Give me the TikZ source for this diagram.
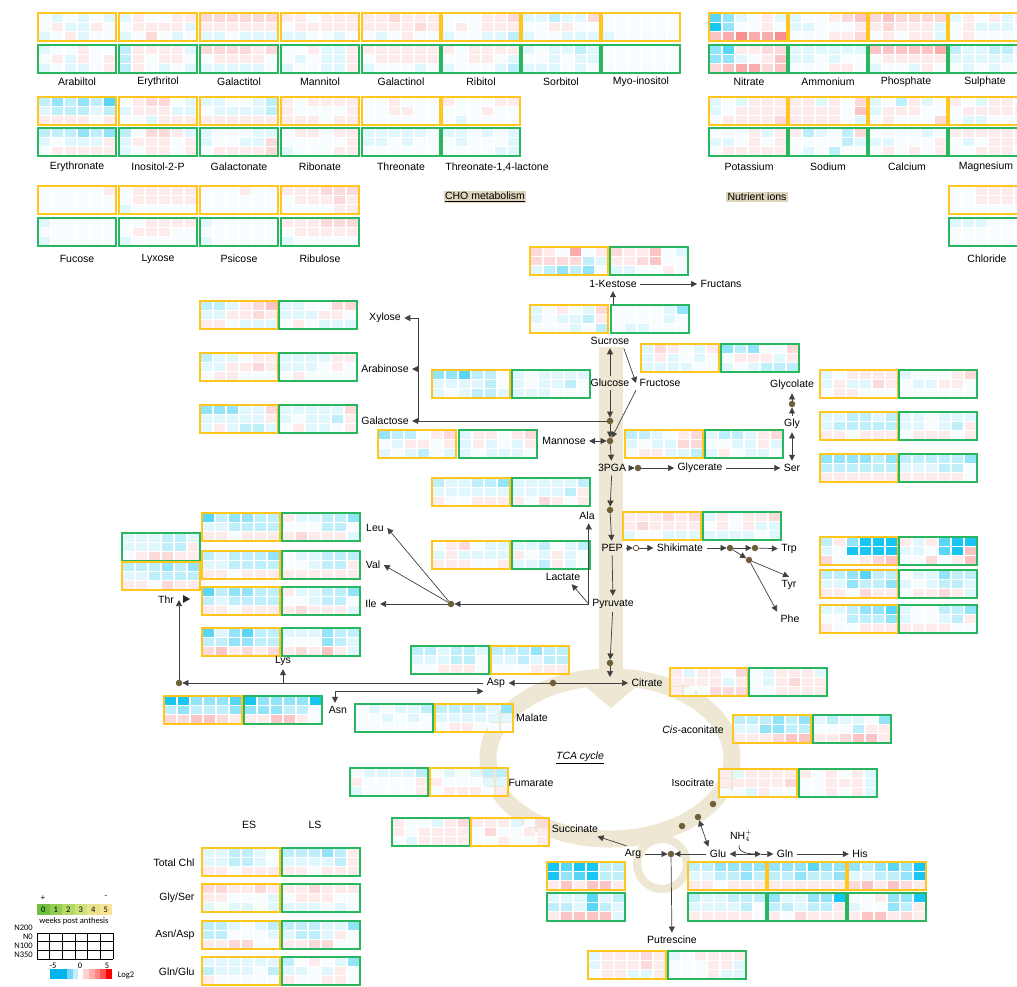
\documentclass[tikz,border=0pt]{standalone}
\usepackage{fontspec}
\setmainfont{Liberation Sans}
\newfontfamily\calfont{Carlito}
\usetikzlibrary{arrows.meta}

\definecolor{esc}{RGB}{255,198,30}
\definecolor{lsc}{RGB}{40,182,95}
\definecolor{hmB}{RGB}{0,190,240}
\definecolor{hmR}{RGB}{245,70,70}
\colorlet{hmw}{hmB!3!white}
\colorlet{hmb1}{hmB!12!white}
\colorlet{hmb2}{hmB!25!white}
\colorlet{hmb3}{hmB!42!white}
\colorlet{hmb4}{hmB!65!white}
\colorlet{hmb5}{hmB!90!white}
\colorlet{hmr1}{hmR!10!white}
\colorlet{hmr2}{hmR!20!white}
\colorlet{hmr3}{hmR!32!white}
\colorlet{hmr4}{hmR!45!white}
\colorlet{hmr5}{hmR!60!white}
\definecolor{path}{RGB}{237,231,212}
\definecolor{dotc}{RGB}{110,95,55}
\definecolor{hdr}{RGB}{221,212,188}
\definecolor{wk0}{RGB}{112,191,65}
\definecolor{wk1}{RGB}{146,204,83}
\definecolor{wk2}{RGB}{179,217,103}
\definecolor{wk3}{RGB}{205,226,124}
\definecolor{wk4}{RGB}{232,228,140}
\definecolor{wk5}{RGB}{250,228,150}
\definecolor{cbb}{RGB}{0,180,240}
\definecolor{cbr}{RGB}{255,0,0}

\tikzset{
  arr/.style={-{Triangle[length=6pt,width=6pt]},line width=0.7pt,draw=black!75},
  arr2/.style={{Triangle[length=6pt,width=6pt]}-{Triangle[length=6pt,width=6pt]},line width=0.7pt,draw=black!75},
  dot/.style={circle,fill=dotc,inner sep=0pt,minimum size=6.5pt},
  odot/.style={circle,draw=dotc,fill=white,line width=0.8pt,inner sep=0pt,minimum size=5.5pt},
  esbox/.style={draw=esc,line width=1.2pt},
  lsbox/.style={draw=lsc,line width=1.2pt},
  leg/.style={font=\calfont\fontsize{8.5}{9}\selectfont,inner sep=1pt}
}

% heat map: x, y (top left), border style, 18 cells row by row
\newcommand{\heatbox}[4]{%
  \begin{scope}[shift={(#1,#2)}]
    \foreach \v [count=\i from 0] in {#4}{%
      \pgfmathtruncatemacro\hc{mod(\i,6)}%
      \pgfmathtruncatemacro\hr{div(\i,6)}%
      \fill[fill=hm\v] (\hc*13+0.6,\hr*9.333+0.6) rectangle ++(11.8,8.1);
    }
    \draw[#3] (0,0) rectangle (78,28);
  \end{scope}}

\begin{document}
\begin{tikzpicture}[x=1pt,y=-1pt,font=\fontsize{10.5}{12.5}\selectfont]
\useasboundingbox (0,0) rectangle (1017,986);
\clip (0,0) rectangle (1017,986);

% pathway background
\fill[path] (599,347) rectangle (623,684);
\draw[path,line width=17pt] (610,758) ellipse [x radius=122,y radius=81];
\fill[path] (580,682) -- (642,682) -- (611,708) -- cycle;
\draw[path,line width=8pt] (662,864) circle [radius=25];

% CHO metabolism
\heatbox{38}{13}{esbox}{w,b1,w,b1,w,b1, w,r1,b1,b1,r1,w, b1,w,r1,b1,w,w}
\heatbox{38}{45}{lsbox}{b1,w,w,r1,w,w, w,r1,b1,r1,w,r1, b1,w,b1,b1,w,r1}
\heatbox{119}{13}{esbox}{b1,r1,w,w,r1,r1, w,r1,r1,r1,r1,b1, b1,w,r2,w,b1,w}
\heatbox{119}{45}{lsbox}{b2,r1,r1,r1,r1,b1, b2,r1,w,r1,r1,w, b2,r1,w,b1,w,b1}
\heatbox{200}{13}{esbox}{r2,r2,r2,r2,r2,r2, r1,r1,r1,r1,r1,r1, b1,b1,w,b1,b1,b1}
\heatbox{200}{45}{lsbox}{r2,r2,r2,r2,r1,r2, w,r1,r1,r1,r1,w, b1,b1,b1,b1,b1,w}
\heatbox{281}{13}{esbox}{r1,r1,w,r1,r1,r1, w,r1,r1,r1,r1,r1, b1,b1,w,w,b1,w}
\heatbox{281}{45}{lsbox}{w,w,r1,b1,b1,r1, w,b1,w,b1,b1,r1, b1,w,w,b1,b1,r1}
\heatbox{362}{13}{esbox}{r1,r1,r2,r1,r1,r1, r1,r1,r1,r1,r2,r1, w,b1,w,r1,w,w}
\heatbox{362}{45}{lsbox}{r1,r1,r1,r1,r1,r1, w,r1,r1,r1,r1,r1, b1,w,w,w,b1,w}
\heatbox{442}{13}{esbox}{w,w,w,r1,r1,r2, w,r1,w,r1,r1,r1, b1,w,w,b1,b1,b2}
\heatbox{442}{45}{lsbox}{r1,w,r1,r1,r1,r1, w,w,r1,r1,w,b1, b1,w,w,w,b1,b2}
\heatbox{522}{13}{esbox}{b1,b1,b2,b1,b1,r2, w,w,r1,r1,w,w, b1,w,w,b1,b1,b1}
\heatbox{522}{45}{lsbox}{b1,w,b1,b1,b2,b1, w,w,b1,w,b1,b1, b1,b1,b1,w,b1,w}
\heatbox{602}{13}{esbox}{w,w,w,w,w,w, w,w,w,w,w,w, b1,w,w,w,w,w}
\heatbox{602}{45}{lsbox}{w,w,w,w,w,w, w,w,w,w,w,w, w,w,w,w,w,w}
\heatbox{38}{97}{esbox}{b2,b3,b2,b3,b2,b4, b1,b2,b2,b2,b1,b2, r1,r1,r1,r1,w,r1}
\heatbox{38}{128}{lsbox}{b2,b2,b2,b3,b2,b3, b1,w,b1,b1,b1,r1, w,r1,r1,r1,r1,r1}
\heatbox{119}{97}{esbox}{w,r1,r2,r2,w,b1, b1,r1,r1,r1,b1,b1, w,w,b1,r1,r1,r1}
\heatbox{119}{128}{lsbox}{b2,w,r2,r2,r1,b1, b1,r1,r1,r1,w,r1, b1,w,r1,r1,w,r1}
\heatbox{200}{97}{esbox}{b1,b1,w,w,b1,b2, w,b1,b1,b1,b1,b2, r1,r1,r1,r1,r1,r1}
\heatbox{200}{128}{lsbox}{b1,w,w,w,b1,b1, b1,w,w,b1,b1,r2, w,r1,r1,r1,r1,r2}
\heatbox{281}{97}{esbox}{r1,w,r1,r1,r1,r1, r1,w,w,w,w,r1, r1,r1,r1,w,r1,r1}
\heatbox{281}{128}{lsbox}{w,r1,r1,w,r1,r1, w,w,w,w,w,r1, b1,w,w,w,r1,r1}
\heatbox{362}{97}{esbox}{w,w,r1,w,w,w, w,w,r1,r1,w,w, w,w,w,w,w,w}
\heatbox{362}{128}{lsbox}{b1,b1,b1,b1,b1,w, b1,b1,w,b1,w,w, w,w,w,w,w,w}
\heatbox{442}{97}{esbox}{r1,w,w,w,r1,r1, w,w,w,r1,w,w, w,b1,w,w,w,w}
\heatbox{442}{128}{lsbox}{b1,b1,w,b1,w,b1, w,b1,w,w,w,b1, w,w,w,w,b1,b1}
\heatbox{38}{186}{esbox}{w,w,w,w,w,r1, w,w,w,w,w,w, w,w,w,w,w,w}
\heatbox{38}{218}{lsbox}{b1,w,w,w,w,w, w,w,w,w,w,w, b1,w,w,w,w,w}
\heatbox{119}{186}{esbox}{w,r1,r1,r1,r1,r1, w,r1,r1,r1,r1,r1, b1,w,w,w,w,w}
\heatbox{119}{218}{lsbox}{w,w,r1,r1,r1,r1, w,r1,r1,r1,w,w, b1,w,w,w,w,w}
\heatbox{200}{186}{esbox}{w,w,w,r1,w,w, w,w,w,w,w,w, w,w,w,w,w,w}
\heatbox{200}{218}{lsbox}{b1,w,w,w,w,w, w,w,w,w,w,w, b1,w,w,w,w,w}
\heatbox{281}{186}{esbox}{r1,r1,r1,r2,r2,r2, w,r1,r1,r1,r2,r1, w,w,w,w,r1,r1}
\heatbox{281}{218}{lsbox}{r1,r1,r1,r2,r2,r2, w,r1,r1,r1,r1,r1, b1,w,w,w,w,w}

\node (arabitol) at (77,82) {Arabiltol};
\node (erythritol) at (158,82) {Erythritol};
\node (galactitol) at (239,82) {Galactitol};
\node (mannitol) at (320,82) {Mannitol};
\node (galactinol) at (401,82) {Galactinol};
\node (ribitol) at (481,82) {Ribitol};
\node (sorbitol) at (561,82) {Sorbitol};
\node (myoinositol) at (641,82) {Myo-inositol};
\node (erythronate) at (77,167) {Erythronate};
\node (inositolp) at (158,167) {Inositol-2-P};
\node (galactonate) at (239,167) {Galactonate};
\node (ribonate) at (320,167) {Ribonate};
\node (threonate) at (401,167) {Threonate};
\node (threolact) at (497,167) {Threonate-1,4-lactone};
\node (fucose) at (77,259) {Fucose};
\node (lyxose) at (158,259) {Lyxose};
\node (psicose) at (239,259) {Psicose};
\node (ribulose) at (320,259) {Ribulose};
\node[fill=hdr,inner sep=1.5pt] (cho) at (485,197) {\underline{CHO metabolism}};

% nutrient ions
\heatbox{709}{13}{esbox}{b4,b3,b1,w,r1,b1, b5,b3,w,w,r1,w, r3,r4,r5,r4,r4,r5}
\heatbox{709}{45}{lsbox}{b3,b4,r1,r1,r2,r2, b3,b3,b1,w,r1,r3, r2,r3,r4,r4,r2,r3}
\heatbox{789}{13}{esbox}{b1,w,w,r1,r2,r3, b1,b1,w,w,w,r1, w,w,w,r1,r1,r2}
\heatbox{789}{45}{lsbox}{b1,b1,b1,b1,b1,b1, b1,b1,w,b1,w,w, w,w,w,r1,r1,w}
\heatbox{869}{13}{esbox}{r2,r3,r2,r2,r2,r2, r1,r2,r1,r1,r1,b1, w,r1,w,r1,r1,b1}
\heatbox{869}{45}{lsbox}{r3,r3,r3,r3,r3,r4, w,r1,r1,r1,r1,r1, b1,w,w,b1,r1,w}
\heatbox{949}{13}{esbox}{b1,r1,w,r1,b1,r1, w,r1,b1,b1,b1,w, w,r1,w,w,w,w}
\heatbox{949}{45}{lsbox}{b2,b1,b1,b2,b2,b1, b1,b1,b1,b1,b1,w, w,b1,w,b1,w,w}
\heatbox{709}{97}{esbox}{b1,w,b1,r1,r1,r1, b1,w,r1,r1,r1,r1, w,r1,r1,r1,r1,r2}
\heatbox{709}{128}{lsbox}{w,w,w,r1,b1,r1, b1,b1,w,r1,w,r1, w,r1,r1,r1,r1,r1}
\heatbox{789}{97}{esbox}{r1,r1,b1,r1,w,r2, r1,r1,r1,r1,w,r3, r1,r1,r1,r1,w,b1}
\heatbox{789}{128}{lsbox}{r1,b2,b1,w,b2,r2, w,w,w,w,b2,b1, w,b1,w,b2,w,w}
\heatbox{869}{97}{esbox}{b1,w,b2,r1,b1,w, b1,r1,r1,r1,w,w, w,r1,w,w,w,r2}
\heatbox{869}{128}{lsbox}{w,w,w,w,b1,w, b1,b1,w,w,w,r1, w,r1,w,r1,w,r1}
\heatbox{949}{97}{esbox}{r1,w,b1,r1,r1,w, w,r1,r1,r1,r1,r1, w,b1,b1,w,w,w}
\heatbox{949}{128}{lsbox}{r1,r1,r1,r1,r1,r1, w,b1,w,r1,r1,r1, w,w,r1,r1,r1,w}
\heatbox{949}{186}{esbox}{w,w,r1,r1,r1,r1, w,w,r1,r1,r1,r1, w,w,w,w,w,w}
\heatbox{949}{218}{lsbox}{b1,b1,b1,w,w,w, w,w,w,w,w,w, w,w,w,w,w,w}

\node (nitrate) at (749,82) {Nitrate};
\node (ammonium) at (828,82) {Ammonium};
\node (phosphate) at (906,82) {Phosphate};
\node (sulphate) at (985,82) {Sulphate};
\node (potassium) at (749,167) {Potassium};
\node (sodium) at (828,167) {Sodium};
\node (calcium) at (907,167) {Calcium};
\node (magnesium) at (986,167) {Magnesium};
\node (chloride) at (987,259) {Chloride};
\node[fill=hdr,inner sep=1.5pt] (nut) at (757,197) {Nutrient ions};

% pathway heat maps
\heatbox{530}{247}{esbox}{r2,r1,w,r4,w,r1, r2,r2,r2,r2,b2,b1, b1,b2,b3,b2,b3,w}
\heatbox{610}{247}{lsbox}{r2,r1,r1,r3,w,b1, r1,r1,r2,r3,w,w, b1,b1,w,w,r1,w}
\heatbox{530}{305}{esbox}{b1,w,r1,w,b1,r2, b1,w,b1,b1,b2,r1, w,w,w,b1,w,b2}
\heatbox{611}{305}{lsbox}{w,w,w,w,b1,b3, w,w,w,w,b1,w, w,b1,b1,w,w,w}
\heatbox{641}{344}{esbox}{b1,r2,r1,w,b1,r1, b1,r1,b1,w,b1,w, b1,b1,b1,b1,w,w}
\heatbox{721}{344}{lsbox}{b3,b2,b3,w,w,r2, w,r1,r1,r1,b1,r1, b1,w,b1,b2,b2,b2}
\heatbox{432}{370}{esbox}{b3,b3,b4,b2,b2,w, b1,b1,b1,b1,b2,w, b1,w,b1,b2,b2,b1}
\heatbox{512}{370}{lsbox}{b1,w,b1,b1,b1,b1, b1,w,b1,b1,b2,w, b1,b1,b1,w,w,w}
\heatbox{200}{301}{esbox}{b2,b2,b1,r1,r2,r3, b1,b1,r1,r1,r2,r1, r1,r1,w,b1,b1,b1}
\heatbox{279}{301}{lsbox}{b1,b1,w,w,r2,r2, b1,b1,b1,r1,r1,w, w,r1,w,b1,b1,b1}
\heatbox{200}{353}{esbox}{b2,b1,b1,w,r1,r1, b1,b1,r1,r1,r2,r1, w,r1,r1,w,w,w}
\heatbox{279}{353}{lsbox}{b1,b1,b1,b1,r1,r1, b1,b1,b1,w,r1,w, w,r1,w,w,w,w}
\heatbox{200}{405}{esbox}{b3,b3,b3,b1,b1,r2, b1,b1,b1,b1,b1,r1, b1,r1,b1,b2,b2,b1}
\heatbox{279}{405}{lsbox}{b1,b1,b1,b1,b1,r2, b1,w,b1,b1,b2,r1, w,r1,b1,b1,w,r1}
\heatbox{378}{430}{esbox}{b3,b2,b2,w,r1,r2, w,b1,r1,r1,w,r1, b1,w,b1,b2,w,b1}
\heatbox{459}{430}{lsbox}{b1,r1,r1,w,r1,r2, b1,r1,b1,w,b1,r1, b1,w,b1,b1,b1,w}
\heatbox{625}{430}{esbox}{b2,b2,b1,w,r1,r2, b1,w,b1,b1,r2,r2, w,r1,r1,b1,b1,b2}
\heatbox{705}{430}{lsbox}{b1,b2,b2,b1,r1,r2, w,w,b1,b1,r1,b1, b1,r1,w,b1,b1,w}
\heatbox{820}{370}{esbox}{b1,w,r1,r1,r1,r1, b1,r1,b1,b1,r2,r1, w,r1,r1,w,w,w}
\heatbox{899}{370}{lsbox}{b1,w,w,w,r1,r2, w,b1,b1,r1,r1,w, w,w,w,w,w,w}
\heatbox{820}{412}{esbox}{b1,b1,b2,b2,b1,b2, b1,b2,b2,b2,b2,b2, r1,r1,w,r1,r1,r1}
\heatbox{899}{412}{lsbox}{b1,b1,w,b1,b1,b1, b1,b1,w,b1,b2,r1, w,r1,r1,r1,w,r1}
\heatbox{820}{454}{esbox}{b3,b3,b3,b3,b2,b3, b2,b2,b2,b2,b2,b2, r1,r1,r1,r1,r1,r1}
\heatbox{899}{454}{lsbox}{b2,b2,b2,b2,b2,b3, b1,b1,b1,b2,b2,w, r1,r1,r1,r1,r1,w}
\heatbox{432}{478}{esbox}{b2,b1,b1,b2,b2,b3, b1,b1,b1,b1,b1,b1, r1,w,w,r1,r1,r1}
\heatbox{512}{478}{lsbox}{b1,b1,b1,b1,b1,b2, b1,b1,b1,b1,b2,r1, r1,w,r2,r1,w,r1}
\heatbox{623}{512}{esbox}{r1,r1,r1,r2,r1,r2, r1,r2,r1,r1,r1,r1, b1,w,w,b1,b1,b1}
\heatbox{703}{512}{lsbox}{b1,r1,w,r1,r1,r2, w,r1,w,r1,b1,b1, b1,b1,b1,b1,w,b1}
\heatbox{432}{541}{esbox}{w,r1,r2,w,b1,b1, b1,r1,b1,b1,b1,b1, r1,r1,r1,w,w,r1}
\heatbox{512}{541}{lsbox}{b1,b1,b2,w,b1,b2, r1,w,b1,r1,b1,w, b1,b1,b2,r1,b1,w}
\heatbox{820}{537}{esbox}{b2,r1,b3,b5,b5,b5, b1,w,b5,b5,b5,b5, r2,w,w,r1,r2,r3}
\heatbox{899}{537}{lsbox}{r1,b1,r1,b4,b5,b5, b1,b1,w,b4,b5,r3, w,w,r2,w,r1,r3}
\heatbox{820}{570}{esbox}{b2,b2,b3,b4,b2,b2, b1,b1,b3,b2,b2,b3, r1,r1,w,r2,r1,r1}
\heatbox{899}{570}{lsbox}{w,b1,b1,b3,b2,b2, b1,w,b1,b2,b2,b1, w,r1,r1,r2,r1,b1}
\heatbox{820}{605}{esbox}{b1,b1,b2,b3,b3,b4, w,w,b2,b2,b2,b3, r1,w,w,r1,r1,r1}
\heatbox{899}{605}{lsbox}{b1,w,w,b2,b2,b3, b1,w,w,b1,b2,r1, r1,r1,r1,r1,w,w}
\heatbox{202}{513}{esbox}{b4,b2,b3,b3,b2,b2, b1,b1,b2,b2,b2,b2, r1,r1,w,r1,r1,r1}
\heatbox{282}{513}{lsbox}{r1,b1,b1,b2,b2,b3, w,w,w,b2,b2,w, r1,r2,r1,r1,r1,b1}
\heatbox{202}{551}{esbox}{b2,b1,b2,b2,b2,b3, b1,b1,b2,b2,b2,b2, r1,r1,w,r1,r1,r1}
\heatbox{282}{551}{lsbox}{w,b1,b1,b2,b2,b2, w,w,b1,b2,b2,r1, r1,r1,r1,r1,r1,r1}
\heatbox{202}{587}{esbox}{b4,b2,b3,b3,b2,b2, b2,b1,b2,b2,b2,b2, r1,r1,w,r1,r1,r1}
\heatbox{282}{587}{lsbox}{r1,b1,b1,b2,b2,b3, w,w,b1,b2,b2,w, r1,r2,r1,r1,r1,b1}
\heatbox{202}{628}{esbox}{b4,b1,b3,b4,b2,b2, b2,b2,b3,b3,b2,b2, r2,r3,r1,r2,r1,r2}
\heatbox{282}{628}{lsbox}{b1,b1,b1,b3,b2,b2, w,w,w,b3,b2,b1, r1,r2,r1,r3,r1,b1}
\heatbox{122}{533}{lsbox}{b1,b1,b1,b2,b2,b1, b1,b1,b1,b2,b2,r1, w,r1,r2,r2,r1,r1}
\heatbox{122}{562}{esbox}{b2,b2,b2,b3,b2,b3, b1,b1,b2,b2,b2,b2, r1,r1,w,r2,r1,r1}
\heatbox{164}{696}{esbox}{b5,b5,b3,b3,b3,b4, b2,b3,b2,b2,b2,b3, r2,r2,r3,r3,r2,r1}
\heatbox{244}{696}{lsbox}{b5,b3,b3,b3,b3,b5, b3,b3,b3,b2,b2,w, r1,r1,r3,r3,r1,w}
\heatbox{411}{646}{lsbox}{b2,b2,b1,b2,b2,b1, b1,b1,b1,b2,b2,w, w,w,r1,r1,r1,w}
\heatbox{491}{646}{esbox}{b2,b2,b2,b3,b2,b2, b1,b1,b2,b1,b2,b2, w,w,w,r1,r1,r1}
\heatbox{355}{704}{lsbox}{w,b1,w,b1,b1,b2, w,w,b1,w,b1,w, w,w,w,w,w,w}
\heatbox{435}{704}{esbox}{b2,b2,b2,b2,b1,b3, b1,b1,b1,b1,b1,b1, w,r1,r1,w,w,w}
\heatbox{350}{768}{lsbox}{w,b1,b1,b1,b1,b2, r1,w,w,w,w,r1, b1,w,w,w,w,r1}
\heatbox{430}{768}{esbox}{w,b1,w,b1,b2,b2, r1,w,w,w,b1,b1, w,r1,r1,r1,w,r1}
\heatbox{392}{818}{lsbox}{r1,w,w,b1,r1,r2, r1,w,r1,r1,r1,r1, w,b1,r1,r1,r1,r1}
\heatbox{471}{818}{esbox}{r1,r1,r1,b1,w,r2, w,r2,w,w,r1,r1, w,w,r1,w,w,r1}
\heatbox{670}{668}{esbox}{r1,b1,r1,r1,w,r2, r1,r1,r1,r1,b1,r1, r1,w,w,r2,r2,r2}
\heatbox{749}{668}{lsbox}{w,b1,r1,r1,r1,b1, w,b1,r1,r2,r1,r1, w,w,r1,r1,r1,r1}
\heatbox{733}{715}{esbox}{b2,b2,b2,b3,b2,b3, b1,b1,b3,b3,b2,b2, r1,r1,r1,r2,r3,r3}
\heatbox{813}{715}{lsbox}{b1,b2,b1,b1,w,b3, w,w,w,b2,r1,r1, r1,r1,r2,r3,r3,r1}
\heatbox{719}{769}{esbox}{r1,b1,r1,r1,r1,r1, r1,r1,r1,r1,r1,r2, w,w,b1,r1,w,w}
\heatbox{799}{769}{lsbox}{r1,w,r1,w,r1,b1, w,w,r1,r1,r1,b1, w,w,r1,w,r1,b1}
\heatbox{547}{862}{esbox}{b5,b4,b5,b5,b2,b2, b5,b3,b4,b5,b2,b2, r1,r3,r1,r3,r3,r1}
\heatbox{547}{893}{lsbox}{b1,b1,b1,b4,b1,b2, b2,b2,b1,b4,b2,b1, r1,r3,r3,r3,r3,b1}
\heatbox{688}{862}{esbox}{b2,b2,b3,b3,b3,b3, b1,b1,b2,b2,b3,b2, r1,r1,w,r1,r1,r1}
\heatbox{688}{893}{lsbox}{b2,b1,b1,b2,b2,b2, b1,b1,b1,b1,b2,w, r1,r1,r1,r1,r1,w}
\heatbox{768}{862}{esbox}{b3,b3,b3,b4,b3,b3, b2,b2,b3,b2,b2,b3, r1,r1,r1,r1,r1,r1}
\heatbox{768}{893}{lsbox}{b3,b1,b1,b3,b3,b5, b2,b2,b1,b2,b2,r1, r1,w,r2,r1,r1,r1}
\heatbox{848}{862}{esbox}{b3,b2,b3,b4,b3,b5, b1,b1,b2,b2,b3,b5, r2,r3,r1,r3,r2,r1}
\heatbox{848}{893}{lsbox}{w,w,r1,b3,b3,b5, b1,w,w,b3,b2,r1, r1,r3,r3,r1,r2,r1}
\heatbox{588}{951}{esbox}{b1,r1,r1,r1,r2,r1, b1,r1,r1,r1,r2,r1, w,r1,r1,b1,b1,r1}
\heatbox{668}{951}{lsbox}{b1,w,r1,r1,r1,r1, w,w,w,r1,r1,b1, w,w,w,r1,b1,b1}

% metabolites
\node (kes) at (613,284) {1-Kestose};
\node (fruc) at (721,284) {Fructans};
\node (suc) at (610,341) {Sucrose};
\node (glc) at (610,383) {Glucose};
\node (fru) at (660,383) {Fructose};
\node (xyl) at (385,318) {Xylose};
\node (ara) at (385,369) {Arabinose};
\node (gal) at (385,421) {Galactose};
\node (man) at (564,441) {Mannose};
\node (pga) at (612,468) {3PGA};
\node (gla) at (700,468) {Glycerate};
\node (ser) at (792,468) {Ser};
\node (gly) at (792,424) {Gly};
\node (glyc) at (792,385) {Glycolate};
\node (ala) at (587,516) {Ala};
\node (pep) at (612,548) {PEP};
\node (shk) at (680,548) {Shikimate};
\node (trp) at (789,549) {Trp};
\node (tyr) at (789,585) {Tyr};
\node (phe) at (790,619) {Phe};
\node (lac) at (563,577) {Lactate};
\node (pyr) at (613,604) {Pyruvate};
\node (leu) at (375,528) {Leu};
\node (val) at (373,565) {Val};
\node (ile) at (371,604) {Ile};
\node (cit) at (647,683) {Citrate};
\node (asp) at (496,683) {Asp};
\node (thr) at (166,600) {Thr};
\node (lys) at (283,661) {Lys};
\node (asn) at (338,710) {Asn};
\node (mal) at (532,718) {Malate};
\node (cis) at (693,730) {\textit{Cis}-aconitate};
\node (tca) at (580,758) {\textit{\underline{TCA cycle}}};
\node (fum) at (531,783) {Fumarate};
\node (iso) at (693,783) {Isocitrate};
\node (sucn) at (575,829) {Succinate};
\node (arg) at (633,854) {Arg};
\node (glu) at (718,854) {Glu};
\node (nh4) at (741,836) {NH$_4^+$};
\node (gln) at (785,854) {Gln};
\node (his) at (860,854) {His};
\node (put) at (672,940) {Putrescine};

% junctions
\node[dot] (jgal) at (610,421) {};
\node[dot] (jman) at (610,441) {};
\node[dot] (jpga) at (638,468) {};
\node[dot] (jgly) at (792,404) {};
\node[dot] (jpep) at (610,510) {};
\node[odot] (oshk) at (636,548) {};
\node[dot] (jshk) at (730,548) {};
\node[dot] (jtrp) at (755,548) {};
\node[dot] (jaro) at (749,560) {};
\node[dot] (jbr) at (451,604) {};
\node[dot] (jcit) at (610,663) {};
\node[dot] (jasp) at (553,683) {};
\node[dot] (jthr) at (179,683) {};
\node[dot] (tcaA) at (713,804) {};
\node[dot] (tcaB) at (698,817) {};
\node[dot] (tcaC) at (682,826) {};
\node[dot] (jarg) at (671,854) {};
\coordinate (gb) at (418,421);
\coordinate (cin) at (610,677);
\coordinate (ng) at (761,854);

% reactions
\draw[arr] ([yshift=-14pt]kes.south) -- (kes.south);
\draw[arr] (kes) -- (fruc);
\draw[arr] (glc) -- (suc);
\draw[arr] ([xshift=-9pt]suc.south east) -- (fru.west);
\draw[arr] (fru.south west) -- (jman);
\draw[arr] (glc) -- (jgal);
\draw[arr] (jgal) -- (jman);
\draw[line width=0.7pt,draw=black!75] (jgal) -- (gb);
\draw[arr] (gb) -- (gal);
\draw[arr] (gb) |- (ara);
\draw[arr] (gb) |- (xyl);
\draw[arr2] (man) -- (jman);
\draw[arr] (jman) -- (pga);
\draw[arr] (pga) -- (jpga);
\draw[arr] (jpga) -- (gla);
\draw[arr] (gla) -- (ser);
\draw[arr2] (ser) -- (gly);
\draw[arr] (gly) -- (jgly);
\draw[arr] (jgly) -- (glyc);
\draw[arr] (pga) -- (jpep);
\draw[arr] (jpep) -- (pep);
\draw[arr] (pep) -- (oshk);
\draw[arr] (oshk) -- (shk);
\draw[arr] (shk) -- (jshk);
\draw[arr] (jshk) -- (jtrp);
\draw[arr] (jtrp) -- (trp);
\draw[arr] (jshk) -- (jaro);
\draw[arr] (jaro) -- (tyr.north);
\draw[arr] (jaro) -- (phe.north west);
\draw[arr] (pep) -- (pyr);
\draw[arr] (pyr.west) -- (pyr.west |- ala.south);
\draw[arr] (pyr.west) -- ([xshift=-12pt]lac.south east);
\draw[arr] (pyr.west) -- (jbr);
\draw[arr] (jbr) -- (leu.east);
\draw[arr] (jbr) -- (val.east);
\draw[arr] (jbr) -- (ile);
\draw[arr] (pyr) -- (jcit);
\draw[arr] (jcit) -- (cin);
\draw[arr] (jasp) -- (asp);
\draw[arr] (jasp) -- (cit);
\draw[arr] (asp) -- (jthr);
\draw[arr] (lys.south |- jthr) -- (lys.south);
\draw[arr] (jthr) -- (jthr |- thr);
\fill[black!85] (183,595) -- (190,599) -- (183,603) -- cycle;
\draw[arr2] ([xshift=-3pt]asn.north) |- (asp.south west);
\draw[arr] ([xshift=5pt]arg.north west) -- ([xshift=-4pt]sucn.south east);
\draw[arr2] (tcaB) -- ([xshift=2pt]glu.north west);
\draw[arr] (arg) -- (jarg);
\draw[arr] (glu) -- (jarg);
\draw[arr] (jarg) -- (put);
\draw[arr2] (glu) -- (ng);
\draw[arr] (ng) -- (gln);
\draw[line width=0.5pt] ([xshift=-2pt]nh4.south) to[out=-100,in=180] ([xshift=-5pt]ng);
\draw[arr] (gln) -- (his);

% ratios
\node (es) at (249,825) {ES};
\node (ls) at (315,825) {LS};
\node[anchor=east] (chl) at (198,863) {Total Chl};
\node[anchor=east] (glyser) at (198,898) {Gly/Ser};
\node[anchor=east] (asnasp) at (198,935) {Asn/Asp};
\node[anchor=east] (glnglu) at (198,972) {Gln/Glu};
\heatbox{202}{848}{esbox}{b1,b1,b2,b2,b1,w, b1,b1,b2,b2,b1,w, r1,r1,w,r1,r1,r1}
\heatbox{282}{848}{lsbox}{b2,b2,b2,b3,b2,r1, b1,b1,b1,b1,b2,r1, r1,r1,w,r1,r1,r1}
\heatbox{202}{884}{esbox}{r2,r2,r1,r1,r2,r1, r1,r1,w,w,w,b1, b1,w,b1,b1,w,b1}
\heatbox{282}{884}{lsbox}{r1,r1,r2,r1,r1,r1, w,r1,r1,r1,w,w, b1,b1,b1,w,b1,w}
\heatbox{202}{921}{esbox}{b2,b2,b1,w,b1,b2, b2,b2,w,w,w,b1, r1,r1,r2,r2,w,w}
\heatbox{282}{921}{lsbox}{b2,b2,b2,b1,b1,b3, b1,b2,b2,b1,r1,w, r1,r1,r2,r2,w,w}
\heatbox{202}{957}{esbox}{b1,b1,b1,b1,b1,b1, b2,b1,b1,b1,w,b2, r1,w,w,w,w,w}
\heatbox{282}{957}{lsbox}{b2,w,r1,w,b1,b3, b1,b1,w,b1,r1,w, r1,w,w,r1,r1,w}

% legend
\node[leg] (plus) at (43,898) {+};
\node[leg] (minus) at (106,897) {-};
\foreach \c [count=\k from 0] in {wk0,wk1,wk2,wk3,wk4,wk5}{
  \fill[fill=\c] (37+\k*12.5,904) rectangle ++(12.5,11);
  \node[leg] (wk\k) at (43.25+\k*12.5,909.5) {\k};
}
\node[leg] (wpa) at (74,921) {weeks post anthesis};
\foreach \k in {0,...,6} \draw[line width=0.9pt] (37+\k*12.667,933) -- ++(0,26);
\foreach \k in {0,...,3} \draw[line width=0.9pt] (37,933+\k*8.667) -- ++(76,0);
\node[leg,anchor=east] (n200) at (34,928) {N200};
\node[leg,anchor=east] (n0) at (34,937) {N0};
\node[leg,anchor=east] (n100) at (34,946) {N100};
\node[leg,anchor=east] (n350) at (34,955) {N350};
\foreach \a/\b/\c in {50/67/cbb, 67/73/cbb!55!white, 73/78/cbb!22!white, 83/89/cbr!18!white, 89/95/cbr!32!white, 95/100/cbr!48!white, 100/106/cbr!68!white, 106/112/cbr}
  \fill[fill=\c] (\a,969) rectangle (\b,979);
\node[leg] (lm5) at (53,966) {-5};
\node[leg] (l0) at (80,966) {0};
\node[leg] (l5) at (107,966) {5};
\node[leg] (log) at (126,975) {Log2};
\end{tikzpicture}
\end{document}
